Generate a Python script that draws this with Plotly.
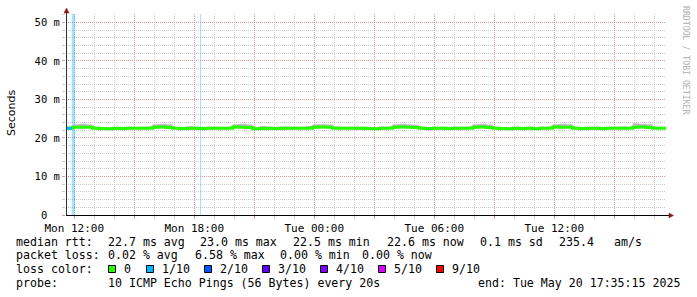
import plotly.graph_objects as go
import pandas as pd

# ---------------- data ----------------
start_time = "2025-05-19 11:35:15"
end_time = "2025-05-20 17:35:15"
step_minutes = 20

# median rtt per 20-minute step (ms)
median_rtt_ms = [
    22.50, 22.80, 22.80, 22.80, 22.55, 22.45, 22.40, 22.50, 22.45, 22.55,
    22.50, 22.55, 22.50, 22.80, 22.85, 22.75, 22.50, 22.45, 22.50, 22.55,
    22.45, 22.50, 22.55, 22.50, 22.55, 22.85, 22.80, 22.75, 22.40, 22.45,
    22.50, 22.45, 22.55, 22.50, 22.55, 22.50, 22.55, 22.80, 22.85, 22.80,
    22.55, 22.50, 22.50, 22.55, 22.50, 22.45, 22.40, 22.50, 22.55, 22.80,
    22.85, 22.80, 22.70, 22.50, 22.45, 22.50, 22.55, 22.45, 22.50, 22.55,
    22.50, 22.80, 22.85, 22.75, 22.50, 22.45, 22.40, 22.50, 22.45, 22.50,
    22.40, 22.50, 22.55, 22.85, 22.80, 22.80, 22.50, 22.45, 22.50, 22.55,
    22.45, 22.50, 22.50, 22.55, 22.50, 22.80, 22.85, 22.75, 22.50, 22.55,
]
# upper edge of the ping "smoke" per step (ms)
smoke_max_ms = [
    22.90, 23.60, 23.70, 23.50, 22.90, 22.80, 22.75, 22.80, 22.80, 22.90,
    22.85, 22.90, 23.00, 23.60, 23.70, 23.60, 22.85, 22.80, 23.00, 22.90,
    22.80, 22.90, 22.90, 22.85, 22.90, 23.60, 23.70, 23.50, 22.80, 23.10,
    22.90, 22.85, 22.90, 22.95, 22.90, 22.90, 23.10, 23.60, 23.60, 23.50,
    23.00, 22.90, 22.90, 22.90, 22.90, 22.85, 22.80, 22.90, 23.00, 23.60,
    23.70, 23.60, 23.40, 22.90, 22.85, 22.90, 22.95, 22.85, 22.90, 22.90,
    23.00, 23.60, 23.70, 23.50, 22.90, 22.85, 22.80, 22.90, 22.85, 22.90,
    22.80, 22.90, 23.00, 23.60, 23.70, 23.60, 22.90, 22.85, 22.90, 22.95,
    22.85, 22.90, 22.90, 23.00, 22.90, 23.80, 23.70, 23.60, 22.90, 22.90,
]

# median line segments drawn in a loss colour
median_loss_start = ["2025-05-19 11:35:15"]
median_loss_end = ["2025-05-19 11:53:15"]
median_loss_level = ["1/10"]

# loss bars (centre time, width in minutes, loss level)
loss_bar_center = ["2025-05-19 11:57:15", "2025-05-19 18:18:45"]
loss_bar_minutes = [10, 3]
loss_bar_level = ["1/10", "1/10"]

loss_labels = ["0", "1/10", "2/10", "3/10", "4/10", "5/10", "9/10"]
loss_colors = ["#26ff00", "#00b8ff", "#0059ff", "#5e00ff", "#7e00ff", "#dd00ff", "#ff0000"]

y_tick_values = [0, 10, 20, 30, 40, 50]
y_tick_labels = ["0\u00a0\u00a0", "10 m", "20 m", "30 m", "40 m", "50 m"]

x_major_ticks = [
    "2025-05-19 12:00", "2025-05-19 15:00", "2025-05-19 18:00", "2025-05-19 21:00",
    "2025-05-20 00:00", "2025-05-20 03:00", "2025-05-20 06:00", "2025-05-20 09:00",
    "2025-05-20 12:00", "2025-05-20 15:00",
]
x_major_labels = ["Mon 12:00", "", "Mon 18:00", "", "Tue 00:00", "", "Tue 06:00", "", "Tue 12:00", ""]

y_title = "Seconds"
watermark = "RRDTOOL / TOBI OETIKER"
rtt_label = "median rtt:"
rtt_parts = ["22.7 ms avg", "23.0 ms max", "22.5 ms min", "22.6 ms now", "0.1 ms sd", "235.4", "am/s"]
loss_label = "packet loss:"
loss_parts = ["0.02 % avg", "6.58 % max", "0.00 % min", "0.00 % now"]
legend_title = "loss color:"
probe_label = "probe:"
probe_text = "10 ICMP Echo Pings (56 Bytes) every 20s"
end_line = "end: Tue May 20 17:35:15 2025"

# ---------------- layout geometry ----------------
W, H = 697, 297
L, R, T, B = 66, 31, 14, 82
PW, PH = W - L - R, H - T - B
Y_MAX = 52.2


def px(x):
    return (x - L) / PW


def py(y):
    return (H - B - y) / PH


def nb(s):
    return s.replace(" ", "\u00a0")


def hex_rgba(h, a):
    h = h.lstrip("#")
    return f"rgba({int(h[0:2],16)},{int(h[2:4],16)},{int(h[4:6],16)},{a})"


color_of = dict(zip(loss_labels, loss_colors))

step_times = list(pd.date_range(start_time, periods=len(median_rtt_ms), freq=f"{step_minutes}min"))
times_ext = step_times + [pd.Timestamp(end_time)]
median_ext = median_rtt_ms + [median_rtt_ms[-1]]
smoke_ext = smoke_max_ms + [smoke_max_ms[-1]]

fig = go.Figure()

# loss bars as filled polygons in data coordinates
for c, m, lvl in zip(loss_bar_center, loss_bar_minutes, loss_bar_level):
    s = pd.Timestamp(c) - pd.Timedelta(minutes=m / 2)
    e = pd.Timestamp(c) + pd.Timedelta(minutes=m / 2)
    fig.add_trace(go.Scatter(x=[s, s, e, e, s], y=[0, Y_MAX, Y_MAX, 0, 0], mode="lines",
                             fill="toself", fillcolor=hex_rgba(color_of[lvl], 0.36),
                             line=dict(width=0), showlegend=False, hoverinfo="skip"))

# smoke
fig.add_trace(go.Scatter(x=times_ext, y=median_ext, mode="lines", line=dict(width=0, shape="hv"),
                         showlegend=False, hoverinfo="skip"))
fig.add_trace(go.Scatter(x=times_ext, y=smoke_ext, mode="lines", line=dict(width=0, shape="hv"),
                         fill="tonexty", fillcolor="#bcbcbc", showlegend=False, hoverinfo="skip"))
# median
fig.add_trace(go.Scatter(x=times_ext, y=median_ext, mode="lines",
                         line=dict(width=3, shape="hv", color=color_of["0"]),
                         showlegend=False, hoverinfo="skip"))
# median segments with loss colour
t0 = pd.Timestamp(start_time)
for s, e, lvl in zip(median_loss_start, median_loss_end, median_loss_level):
    idx = int((pd.Timestamp(s) - t0) / pd.Timedelta(minutes=step_minutes))
    v = median_rtt_ms[idx]
    fig.add_trace(go.Scatter(x=[pd.Timestamp(s), pd.Timestamp(e)], y=[v, v], mode="lines",
                             line=dict(width=3, color=color_of[lvl]), showlegend=False, hoverinfo="skip"))

MAJ = "rgba(225,95,95,0.45)"
MIN = "#cccccc"
mono = "DejaVu Sans Mono"

fig.update_layout(
    width=W, height=H, margin=dict(l=L, r=R, t=T, b=B),
    paper_bgcolor="white", plot_bgcolor="white",
    showlegend=False,
    xaxis=dict(
        type="date", range=[start_time, end_time],
        tickmode="array", tickvals=x_major_ticks, ticktext=x_major_labels,
        showgrid=True, gridcolor=MAJ, griddash="1px,1px", gridwidth=1,
        ticks="outside", ticklen=3, tickcolor=MAJ,
        tickfont=dict(family=mono, size=11, color="black"),
        minor=dict(dtick=3600000, tick0="2025-05-19 12:00", showgrid=True, gridcolor=MIN,
                   griddash="1px,1px", ticks="outside", ticklen=3, tickcolor=MIN),
        zeroline=False, showline=False,
    ),
    yaxis=dict(
        range=[0, Y_MAX], tickmode="array", tickvals=y_tick_values, ticktext=y_tick_labels,
        showgrid=True, gridcolor=MAJ, griddash="1px,1px",
        ticks="outside", ticklen=3, tickcolor=MAJ,
        tickfont=dict(family=mono, size=10.5, color="black"),
        minor=dict(dtick=2, showgrid=True, gridcolor=MIN, griddash="1px,1px",
                   ticks="outside", ticklen=3, tickcolor=MIN),
        zeroline=False, showline=False,
    ),
)

shapes = []
# axes
shapes.append(dict(type="line", xref="paper", yref="paper", x0=px(66.5), x1=px(66.5), y0=py(215), y1=py(11),
                   line=dict(color="#303030", width=1)))
shapes.append(dict(type="line", xref="paper", yref="paper", x0=px(66), x1=px(670), y0=py(215.5), y1=py(215.5),
                   line=dict(color="black", width=1)))


def tri(pts):
    p = "M " + " L ".join(f"{px(a)},{py(b)}" for a, b in pts) + " Z"
    return dict(type="path", xref="paper", yref="paper", path=p, fillcolor="#8b1a1a",
                line=dict(color="#8b1a1a", width=0.5))


shapes.append(tri([(66.5, 8), (64, 13), (69, 13)]))
shapes.append(tri([(673.5, 215.5), (669, 213), (669, 218)]))
# legend squares
sq_x = [108, 146, 204, 262, 320, 378, 436]
for x0, c in zip(sq_x, loss_colors):
    shapes.append(dict(type="rect", xref="paper", yref="paper", x0=px(x0 + 0.5), x1=px(x0 + 7.5),
                       y0=py(265.5), y1=py(272.5), fillcolor=c, line=dict(color="black", width=1)))
fig.update_layout(shapes=shapes)

ann = []


def text(x, y, s, size=11.6, family=mono, color="black", xanchor="left"):
    ann.append(dict(x=px(x), y=py(y), xref="paper", yref="paper", text=nb(s), showarrow=False,
                    xanchor=xanchor, yanchor="middle",
                    font=dict(family=family, size=size, color=color), borderpad=0))


Y1, Y2, Y3, Y4 = 241.5, 255.3, 269, 282.8
text(15.3, Y1, rtt_label)
for x0, s in zip([106.6, 199.3, 291.6, 386.0, 478.6, 557.6, 612.6], rtt_parts):
    text(x0, Y1, s)
text(15.3, Y2, loss_label)
for x0, s in zip([106.6, 193.6, 278.6, 360.5], loss_parts):
    text(x0, Y2, s)
text(15.3, Y3, legend_title)
for x0, lab in zip(sq_x, loss_labels):
    text(x0 + 14.6, Y3, lab)
text(15.3, Y4, probe_label)
text(106.6, Y4, probe_text)
text(681, Y4, end_line, xanchor="right")
ann.append(dict(x=px(11), y=py(113), xref="paper", yref="paper", text=y_title, showarrow=False,
                textangle=-90, font=dict(family="DejaVu Sans", size=11, color="black"),
                xanchor="center", yanchor="middle"))
ann.append(dict(x=px(686), y=py(60), xref="paper", yref="paper", text=nb(watermark), showarrow=False,
                textangle=90, font=dict(family=mono, size=8.2, color="#b0b0b0"),
                xanchor="center", yanchor="middle"))
fig.update_layout(annotations=ann)

fig.write_html("out.html")
